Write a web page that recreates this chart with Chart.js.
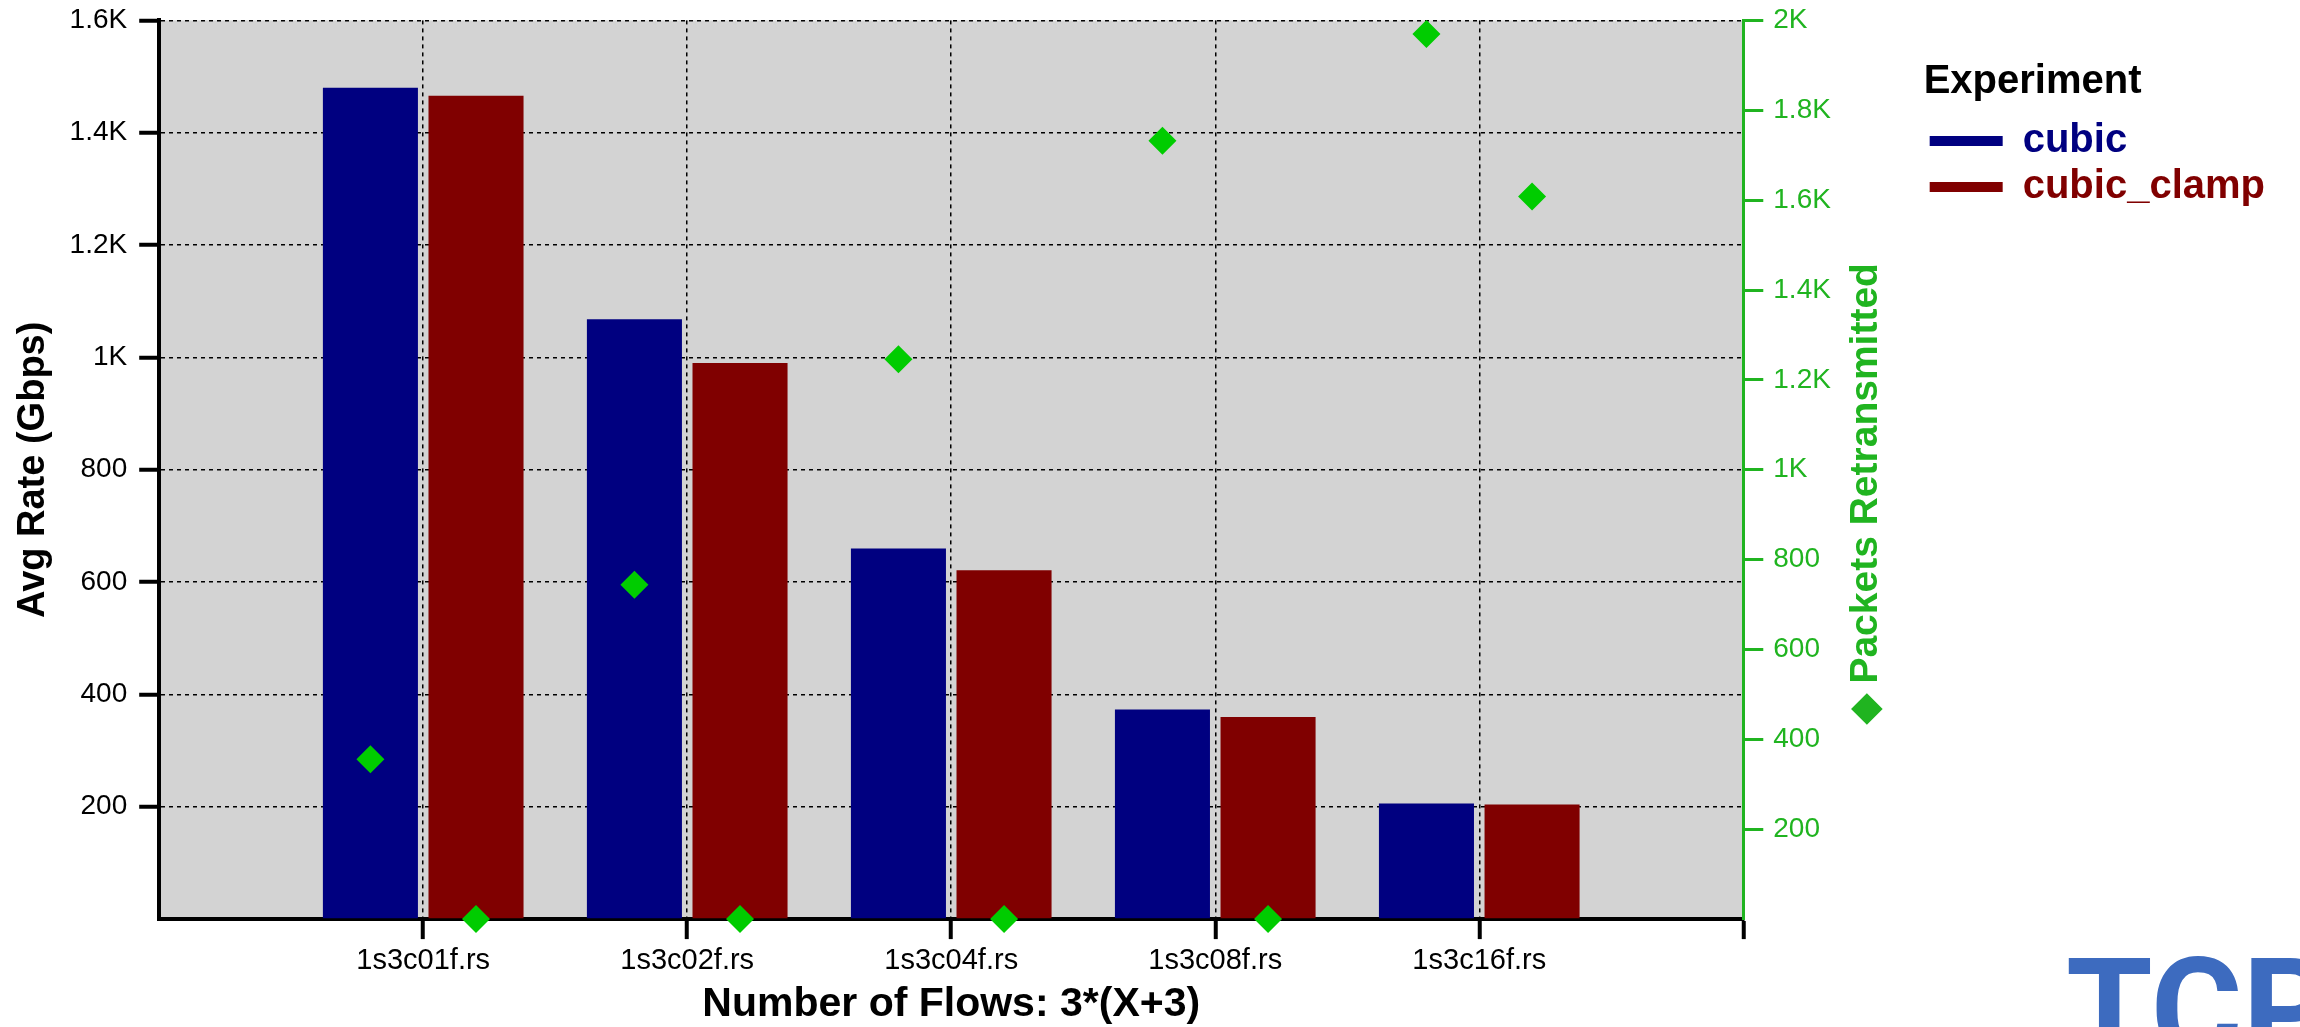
<!DOCTYPE html>
<html>
<head>
<meta charset="utf-8">
<title>Avg Rate by Number of Flows</title>
<script src="https://cdn.jsdelivr.net/npm/chart.js@4.4.0/dist/chart.umd.min.js"></script>
<style>
    html, body { margin: 0; padding: 0; background: #fff; overflow: hidden; }
    #wrap { position: relative; width: 2300px; height: 1027px; overflow: hidden; }
    #stamp {
        position: absolute; left: 2066px; top: 939px;
        font: 700 140px Roboto, "Liberation Sans", sans-serif;
        line-height: 1; color: #3d6bbf; white-space: nowrap;
    }
</style>
</head>
<body>
<div id="wrap">
    <canvas id="rate-chart" width="2300" height="1027"></canvas>
    <div id="stamp">TCP</div>
</div>
<script>
const flowLabels = ['1s3c01f.rs', '1s3c02f.rs', '1s3c04f.rs', '1s3c08f.rs', '1s3c16f.rs'];
const cubicRate = [1480, 1068, 660, 373, 206];
const clampRate = [1466, 990, 621, 360, 204];
const cubicRetrans = [356, 744, 1246, 1732, 1970];
const clampRetrans = [0, 0, 0, 0, 1608];
const rateTicks = ['', '200', '400', '600', '800', '1K', '1.2K', '1.4K', '1.6K'];
const retransTicks = ['', '200', '400', '600', '800', '1K', '1.2K', '1.4K', '1.6K', '1.8K', '2K'];

const FONT = '"Liberation Sans", Arial, Helvetica, sans-serif';
const GREEN = '#20b420';
const MARK_GREEN = '#00cc00';

// empty slot on either side of the five groups
const xLabels = [''].concat(flowLabels, ['']);
const pad = arr => [null].concat(arr, [null]);

const plotBackground = {
    id: 'plotBackground',
    beforeDraw(chart) {
        const {ctx, chartArea: a} = chart;
        ctx.save();
        ctx.fillStyle = '#d3d3d3';
        ctx.fillRect(a.left, a.top, a.right - a.left, a.bottom - a.top);
        ctx.restore();
    }
};

// green diamonds: retransmitted packets on the right axis, centred on each bar
const retransMarks = {
    id: 'retransMarks',
    afterDatasetsDraw(chart) {
        const ctx = chart.ctx;
        const y2 = chart.scales.y2;
        const r = 14;
        [cubicRetrans, clampRetrans].forEach((values, k) => {
            const bars = chart.getDatasetMeta(k).data;
            values.forEach((v, i) => {
                const x = bars[i + 1].x;
                const y = y2.getPixelForValue(v);
                ctx.save();
                ctx.fillStyle = MARK_GREEN;
                ctx.beginPath();
                ctx.moveTo(x - r, y);
                ctx.lineTo(x, y - r);
                ctx.lineTo(x + r, y);
                ctx.lineTo(x, y + r);
                ctx.closePath();
                ctx.fill();
                ctx.restore();
            });
        });
    }
};

// right axis title reads bottom-to-top, Chart.js would draw it top-to-bottom
const rightTitle = {
    id: 'rightTitle',
    afterDraw(chart) {
        const s = chart.scales.y2;
        const size = 39;
        const x = s.right - 34 - size * 1.2 / 2;
        const y = (s.top + s.bottom) / 2 + 24;
        const ctx = chart.ctx;
        ctx.save();
        ctx.translate(x, y);
        ctx.rotate(-Math.PI / 2);
        ctx.font = 'bold ' + size + 'px ' + FONT;
        ctx.fillStyle = GREEN;
        ctx.textAlign = 'center';
        ctx.textBaseline = 'middle';
        ctx.fillText('\u25C6 Packets Retransmitted', 0, 0);
        ctx.restore();
    }
};

const hideZero = color => c => (c.tick && c.tick.value === 0 ? 'rgba(0,0,0,0)' : color);

new Chart(document.getElementById('rate-chart'), {
    type: 'bar',
    data: {
        labels: xLabels,
        datasets: [
            { label: 'cubic', data: pad(cubicRate), backgroundColor: '#000080', yAxisID: 'y',
              categoryPercentage: 0.8, barPercentage: 0.9 },
            { label: 'cubic_clamp', data: pad(clampRate), backgroundColor: '#800000', yAxisID: 'y',
              categoryPercentage: 0.8, barPercentage: 0.9 }
        ]
    },
    options: {
        responsive: false,
        animation: false,
        devicePixelRatio: 1,
        layout: { padding: { top: 20, right: 25, bottom: 0, left: 0 } },
        plugins: {
            tooltip: { enabled: false },
            legend: {
                position: 'right',
                align: 'start',
                title: {
                    display: true, text: 'Experiment', position: 'start', color: '#000',
                    font: { family: FONT, size: 40, weight: 'bold' },
                    padding: { top: 42, bottom: 5 }
                },
                labels: {
                    boxWidth: 73, boxHeight: 10, padding: 6,
                    font: { family: FONT, size: 40, weight: 'bold' },
                    generateLabels: chart => Chart.defaults.plugins.legend.labels.generateLabels(chart)
                        .map(item => Object.assign(item, { fontColor: item.fillStyle, strokeStyle: item.fillStyle, lineWidth: 0 }))
                }
            }
        },
        scales: {
            x: {
                type: 'category',
                offset: false,
                grid: {
                    offset: false,
                    color: '#000', lineWidth: 1.5,
                    tickColor: c => (c.index === 0 ? 'rgba(0,0,0,0)' : '#000'),
                    tickWidth: 4, tickLength: 20, tickBorderDash: []
                },
                border: { color: '#000', width: 4, dash: [4, 4] },
                ticks: { color: '#000', font: { family: FONT, size: 29 }, padding: 4, maxRotation: 0, autoSkip: false },
                title: {
                    display: true, text: 'Number of Flows: 3*(X+3)', color: '#000',
                    font: { family: FONT, size: 41, weight: 'bold', lineHeight: 1.1 }, padding: 0
                }
            },
            y: {
                position: 'left',
                min: 0, max: 1600,
                grid: {
                    color: '#000', lineWidth: 1.5,
                    tickColor: hideZero('#000'), tickWidth: 4, tickLength: 20, tickBorderDash: []
                },
                border: { color: '#000', width: 4, dash: [4, 4] },
                ticks: {
                    stepSize: 200, color: '#000', padding: 12,
                    font: { family: FONT, size: 28, lineHeight: 0.6 },
                    callback: (value, index) => rateTicks[index]
                },
                title: {
                    display: true, text: 'Avg Rate (Gbps)', color: '#000',
                    font: { family: FONT, size: 38, weight: 'bold' },
                    padding: { top: 11, bottom: 1 }
                }
            },
            y2: {
                position: 'right',
                min: 0, max: 2000,
                grid: {
                    drawOnChartArea: false,
                    tickColor: hideZero(GREEN), tickWidth: 3, tickLength: 20, tickBorderDash: []
                },
                border: { color: GREEN, width: 3 },
                ticks: {
                    stepSize: 200, color: GREEN, padding: 10,
                    font: { family: FONT, size: 28, lineHeight: 0.6 },
                    callback: (value, index) => retransTicks[index]
                },
                title: {
                    display: true, text: '\u25C6 Packets Retransmitted', color: 'rgba(0,0,0,0)',
                    font: { family: FONT, size: 39, weight: 'bold' },
                    padding: { top: 34, bottom: 2 }
                }
            }
        }
    },
    plugins: [plotBackground, retransMarks, rightTitle]
});
</script>
</body>
</html>
